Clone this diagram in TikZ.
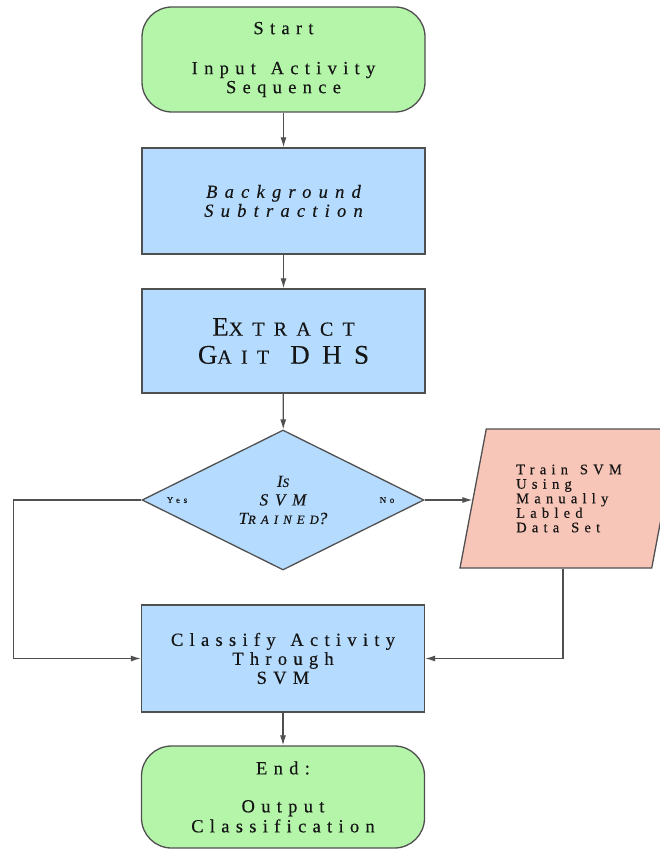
\documentclass[tikz,border=0pt]{standalone}
\usepackage{fontspec}
\setmainfont{Liberation Serif}
\newfontfamily\lsp{Liberation Serif}[LetterSpace=34,FakeBold=0.35,WordSpace=1.35]
\newfontfamily\lspi{Liberation Serif}[LetterSpace=39,FakeBold=0.35,WordSpace=1.35]
\newfontfamily\lspd{Liberation Serif}[LetterSpace=40,FakeBold=0.35,WordSpace=1.35]
\newfontfamily\lspe{Liberation Serif}[LetterSpace=46,FakeBold=0.2,WordSpace=1.1]
\newfontfamily\lspt{Liberation Serif}[LetterSpace=36,FakeBold=0.35,WordSpace=1.35]
\usetikzlibrary{shapes.geometric,arrows.meta}
\definecolor{termgreen}{HTML}{B4F5AA}
\definecolor{procblue}{HTML}{B5DCFF}
\definecolor{iopink}{HTML}{F8C6B8}
\definecolor{edge}{HTML}{505050}
\definecolor{txt}{HTML}{151515}
\begin{document}
\begin{tikzpicture}[x=1pt,y=-1pt,
  every node/.style={text=txt},
  box/.style={draw=edge, line width=1.3pt, minimum width=283pt, align=center, inner sep=0pt},
  term/.style={box, fill=termgreen, rounded corners=30pt},
  proc/.style={box, fill=procblue},
  dec/.style={draw=edge, line width=1.3pt, fill=procblue, diamond, minimum width=282pt, minimum height=140pt, inner sep=0pt, align=center},
  io/.style={draw=edge, line width=1.3pt, fill=iopink, trapezium, trapezium left angle=68.8, trapezium right angle=111.2, trapezium stretches body, minimum width=218pt, minimum height=139pt, inner sep=0pt, align=left},
  arr/.style={draw=edge, line width=1.2pt, -{Latex[length=10pt,width=6pt]}},
  lbl/.style={font=\lspd\fontsize{9}{10}\selectfont}
]
\useasboundingbox (0,0) rectangle (660,850);

\node[term, minimum height=105pt, font=\lsp\fontsize{18.5}{19}\selectfont] (start) at (283.5,59.5)
  {Start\\[21pt]Input Activity\\Sequence};
\node[proc, minimum height=106pt, font=\lspi\itshape\fontsize{18.5}{19}\selectfont] (bg) at (283.5,201)
  {Background\\Subtraction};
\node[proc, minimum height=104pt, font=\lspe\fontsize{27}{28}\selectfont] (ext) at (283.5,341)
  {E{\fontsize{20}{28}\selectfont XTRACT}\\G{\fontsize{20}{28}\selectfont AIT} DHS};
\node[dec, font=\lspd\itshape\fontsize{17}{18.5}\selectfont] (dia) at (283,500)
  {I{\fontsize{12.75}{18.5}\selectfont S}\\SVM\\T{\fontsize{12.75}{18.5}\selectfont RAINED}?};
\node[io, font=\lspt\fontsize{14.5}{14.5}\selectfont] (train) at (569,498.5)
  {Train SVM\\Using\\Manually\\Labled\\Data Set};
\node[proc, minimum height=107pt, font=\lsp\fontsize{18.5}{19}\selectfont] (cls) at (283,658.5)
  {Classify Activity\\Through\\SVM};
\node[term, minimum height=102pt, font=\lsp\fontsize{18.5}{20}\selectfont] (end) at (283,797)
  {End:\\[18pt]Output\\Classification};

\node[lbl] (yes) at (177,500) {Yes};
\node[lbl] (no) at (387,500) {No};

\draw[arr] (start) -- (bg);
\draw[arr] (bg) -- (ext);
\draw[arr] (ext) -- (dia);
\draw[arr] (dia.west) -- ++(-128,0) |- (cls.west);
\draw[arr] (dia.east) -- (dia.east -| train.west);
\draw[arr] ([xshift=-6pt]train.south) |- (cls.east);
\draw[arr] (cls) -- (end);
\end{tikzpicture}
\end{document}
